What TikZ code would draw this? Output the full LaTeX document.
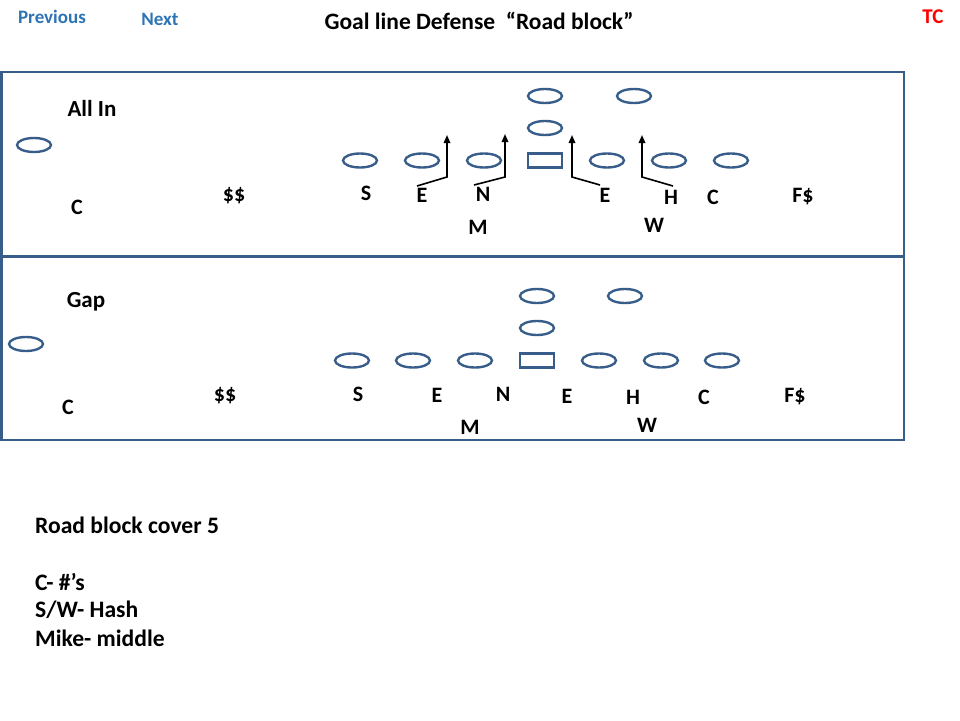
\documentclass[tikz,border=0pt]{standalone}
\usepackage{fontspec}
\setmainfont{Carlito}
\usepackage{tikz}
\usetikzlibrary{shapes.geometric,arrows.meta}

\definecolor{fieldblue}{RGB}{56,93,138}
\definecolor{linkblue}{RGB}{46,116,181}

\begin{document}
\begin{tikzpicture}[x=1pt, y=-1pt,
    player/.style={shape=ellipse, draw=fieldblue, line width=2.4pt, minimum width=34pt, minimum height=14pt, inner sep=0pt},
    ballbox/.style={shape=rectangle, draw=fieldblue, line width=2.4pt, minimum width=34pt, minimum height=14pt, inner sep=0pt},
    frame/.style={draw=fieldblue, line width=2.4pt},
    tag/.style={font=\bfseries\fontsize{22}{26}\selectfont, inner sep=0pt},
    note/.style={font=\bfseries\fontsize{23.6}{28}\selectfont, inner sep=0pt, anchor=west},
    link/.style={font=\bfseries\fontsize{19}{23}\selectfont, text=linkblue, inner sep=0pt},
    route/.style={line width=1.6pt, -{Triangle[length=8pt,width=6.5pt]}}]
                \useasboundingbox (0,0) rectangle (960,720);

                % header
                \node[link] (prev) at (52,17) {Previous};
                \node[link] (next) at (160,19) {Next};
                \node[font=\bfseries\fontsize{23.5}{28}\selectfont, inner sep=0pt] (title) at (479,21) {Goal line Defense\ \ “Road block”};
                \node[font=\bfseries\fontsize{21}{25}\selectfont, text=red, inner sep=0pt] (tc) at (933,17) {TC};

                % field
                \draw[frame] (1.5,72) rectangle (904,440);
                \draw[frame] (1.5,256.5) -- (904,256.5);

                % all in
                \node[tag, font=\bfseries\fontsize{23}{28}\selectfont] (allin) at (92,108) {All In};
                \node[player] (T11) at (34,145) {};
                \node[player] (T1) at (360,160.5) {};
                \node[player] (T2) at (422,160.5) {};
                \node[player] (T3) at (484,160.5) {};
                \node[ballbox] (T4) at (545,160.5) {};
                \node[player] (T5) at (607,160.5) {};
                \node[player] (T6) at (669,160.5) {};
                \node[player] (T7) at (731,160.5) {};
                \node[player] (T8) at (545,128) {};
                \node[player] (T9) at (545,96) {};
                \node[player] (T10) at (634,96) {};

                \node[tag] (TC1) at (77,207) {C};
                \node[tag] (TD1) at (234,196) {\$\$};
                \node[tag] (TS) at (366,193) {S};
                \node[tag] (TE1) at (422,195) {E};
                \node[tag] (TN) at (483,194) {N};
                \node[tag] (TE2) at (605,195) {E};
                \node[tag] (TH) at (671,197) {H};
                \node[tag] (TC2) at (713,197) {C};
                \node[tag] (TF) at (803,197) {F\$};
                \node[tag] (TM) at (478,227) {M};
                \node[tag] (TW) at (654,225) {W};

                \coordinate (R1) at (417,186);
                \coordinate (K1) at (447,177);
                \coordinate (H1) at (447,135);
                \coordinate (R2) at (474,185);
                \coordinate (K2) at (505,177);
                \coordinate (H2) at (505,134);
                \coordinate (R3) at (600,185);
                \coordinate (K3) at (572,177);
                \coordinate (H3) at (572,135);
                \coordinate (R4) at (673,186);
                \coordinate (K4) at (642,177);
                \coordinate (H4) at (642,135);
                \draw[route] (R1) -- (K1) -- (H1);
                \draw[route] (R2) -- (K2) -- (H2);
                \draw[route] (R3) -- (K3) -- (H3);
                \draw[route] (R4) -- (K4) -- (H4);

                % gap
                \node[tag, font=\bfseries\fontsize{23}{28}\selectfont] (gap) at (86,302) {Gap};
                \node[player] (B11) at (26,344) {};
                \node[player] (B1) at (352,360.5) {};
                \node[player] (B2) at (413,360.5) {};
                \node[player] (B3) at (475,360.5) {};
                \node[ballbox] (B4) at (537,360.5) {};
                \node[player] (B5) at (599,360.5) {};
                \node[player] (B6) at (661,360.5) {};
                \node[player] (B7) at (722,360.5) {};
                \node[player] (B8) at (537,328) {};
                \node[player] (B9) at (537,296) {};
                \node[player] (B10) at (625,296) {};

                \node[tag] (BC1) at (68,407) {C};
                \node[tag] (BD1) at (225,396) {\$\$};
                \node[tag] (BS) at (358,394) {S};
                \node[tag] (BE1) at (437,395) {E};
                \node[tag] (BN) at (503,394) {N};
                \node[tag] (BE2) at (567,396) {E};
                \node[tag] (BH) at (633,397) {H};
                \node[tag] (BC2) at (704,397) {C};
                \node[tag] (BF) at (795,397) {F\$};
                \node[tag] (BM) at (470,427) {M};
                \node[tag] (BW) at (647,425) {W};

                % notes
                \node[note] (cover) at (35,525) {Road block cover 5};
                \node[note] (corner) at (35,582) {C- \#’s};
                \node[note] (safety) at (35,610) {S/W- Hash};
                \node[note] (mike) at (35,638) {Mike- middle};

            \end{tikzpicture}
\end{document}
